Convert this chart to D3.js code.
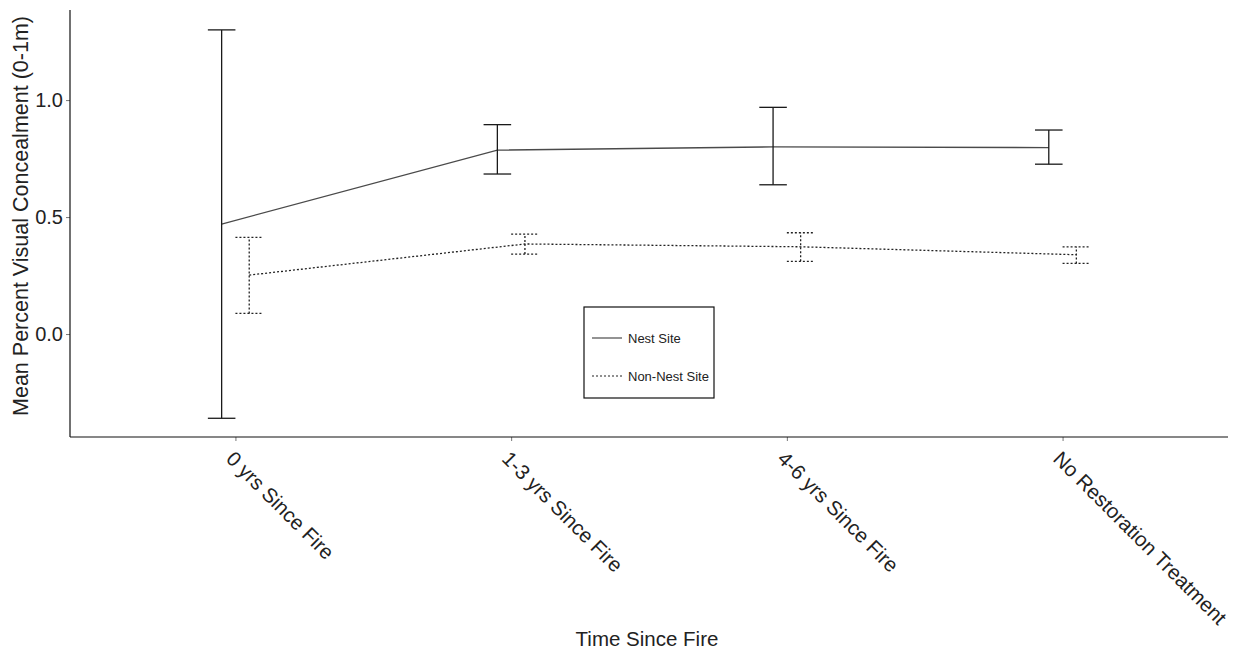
<!DOCTYPE html>
<html>
<head>
<meta charset="utf-8">
<script src="https://cdn.jsdelivr.net/npm/d3@7"></script>
<style>
  html, body { margin: 0; padding: 0; background: #fff; }
  svg { display: block; font-family: "Liberation Sans", Arial, sans-serif; }
</style>
</head>
<body>
<svg id="chart" width="1235" height="654"></svg>
<script>
// Treatment categories along the x axis
const categories = ["0 yrs Since Fire", "1-3 yrs Since Fire", "4-6 yrs Since Fire", "No Restoration Treatment"];
const seriesNames = ["Nest Site", "Non-Nest Site"];

// Mean percent visual concealment and error-bar limits per group
const nestMean  = [0.47, 0.786, 0.800, 0.797];
const nestLow   = [-0.36, 0.684, 0.638, 0.726];
const nestHigh  = [1.30, 0.895, 0.969, 0.872];

const nonNestMean = [0.252, 0.385, 0.373, 0.339];
const nonNestLow  = [0.088, 0.342, 0.311, 0.302];
const nonNestHigh = [0.413, 0.427, 0.433, 0.373];

const yTicks = [0.0, 0.5, 1.0];

(function draw() {
  const svg = d3.select("#chart");
  const mLeft = 70, mRight = 1228, mTop = 10, mBottom = 437;

  // Discrete x positions with 0.6 padding on each side
  const x = d3.scaleLinear().domain([0.4, categories.length + 0.6]).range([mLeft, mRight]);
  const y = d3.scaleLinear().domain([-0.44, 1.385]).range([mBottom, mTop]);

  const dodge = 0.05;   // half the dodge width
  const capHalf = 0.05; // half the error-bar cap width

  const series = [
    { name: seriesNames[0], mean: nestMean, low: nestLow, high: nestHigh, offset: -dodge,
      lineColor: "#4a4a4a", barColor: "#1a1a1a", dash: null },
    { name: seriesNames[1], mean: nonNestMean, low: nonNestLow, high: nonNestHigh, offset: dodge,
      lineColor: "#222", barColor: "#222", dash: "2,2" }
  ];

  // Axes
  const yAxis = d3.axisLeft(y).tickValues(yTicks).tickFormat(d3.format(".1f")).tickSize(4).tickPadding(3);
  const gy = svg.append("g").attr("transform", `translate(${mLeft},0)`).call(yAxis);
  gy.select(".domain").remove();
  gy.selectAll(".tick line").attr("stroke", "#777");
  gy.selectAll(".tick text").attr("font-size", 20).attr("fill", "#222")
    .attr("font-family", "Liberation Sans, Arial, sans-serif");
  svg.append("line").attr("x1", mLeft).attr("x2", mLeft).attr("y1", mTop).attr("y2", mBottom)
    .attr("stroke", "#111").attr("stroke-width", 1.2);

  const xAxis = d3.axisBottom(x).tickValues(d3.range(1, categories.length + 1))
    .tickFormat(i => categories[i - 1]).tickSize(4).tickPadding(4);
  const gx = svg.append("g").attr("transform", `translate(0,${mBottom})`).call(xAxis);
  gx.select(".domain").remove();
  gx.selectAll(".tick line").attr("stroke", "#777");
  gx.selectAll(".tick text")
    .attr("font-size", 20.5).attr("fill", "#222")
    .attr("font-family", "Liberation Sans, Arial, sans-serif")
    .attr("text-anchor", "start")
    .attr("x", 0).attr("y", 0).attr("dy", "0")
    .attr("transform", "translate(-11,23) rotate(45)");
  svg.append("line").attr("x1", mLeft).attr("x2", mRight).attr("y1", mBottom).attr("y2", mBottom)
    .attr("stroke", "#111").attr("stroke-width", 1.2);

  // Axis titles
  svg.append("text").attr("x", 647).attr("y", 646).attr("text-anchor", "middle")
    .attr("font-size", 20.5).attr("fill", "#222").text("Time Since Fire");
  svg.append("text").attr("transform", "translate(28,216) rotate(-90)")
    .attr("text-anchor", "middle").attr("font-size", 21.5).attr("fill", "#222")
    .text("Mean Percent Visual Concealment (0-1m)");

  // Lines and error bars
  const line = d3.line().x(d => x(d.i + 1 + d.off)).y(d => y(d.v));
  series.forEach(s => {
    const pts = s.mean.map((v, i) => ({ v, i, off: s.offset }));
    svg.append("path").datum(pts).attr("d", line).attr("fill", "none")
      .attr("stroke", s.lineColor).attr("stroke-width", 1.3)
      .attr("stroke-dasharray", s.dash);

    const g = svg.append("g").attr("stroke", s.barColor).attr("stroke-width", 1.3)
      .attr("stroke-dasharray", s.dash).attr("fill", "none");
    s.mean.forEach((_, i) => {
      const cx = i + 1 + s.offset;
      g.append("line").attr("x1", x(cx)).attr("x2", x(cx)).attr("y1", y(s.low[i])).attr("y2", y(s.high[i]));
      g.append("line").attr("x1", x(cx - capHalf)).attr("x2", x(cx + capHalf)).attr("y1", y(s.high[i])).attr("y2", y(s.high[i]));
      g.append("line").attr("x1", x(cx - capHalf)).attr("x2", x(cx + capHalf)).attr("y1", y(s.low[i])).attr("y2", y(s.low[i]));
    });
  });

  // Legend
  const lg = svg.append("g").attr("transform", "translate(584,307)");
  lg.append("rect").attr("width", 130).attr("height", 91).attr("fill", "#fff")
    .attr("stroke", "#111").attr("stroke-width", 1.2);
  series.forEach((s, k) => {
    const yy = 31 + k * 38;
    lg.append("line").attr("x1", 8).attr("x2", 38).attr("y1", yy).attr("y2", yy)
      .attr("stroke", s.lineColor).attr("stroke-width", 1.2).attr("stroke-dasharray", s.dash);
    lg.append("text").attr("x", 44).attr("y", yy + 4.5).attr("font-size", 13).attr("fill", "#222").text(s.name);
  });
})();
</script>
</body>
</html>
